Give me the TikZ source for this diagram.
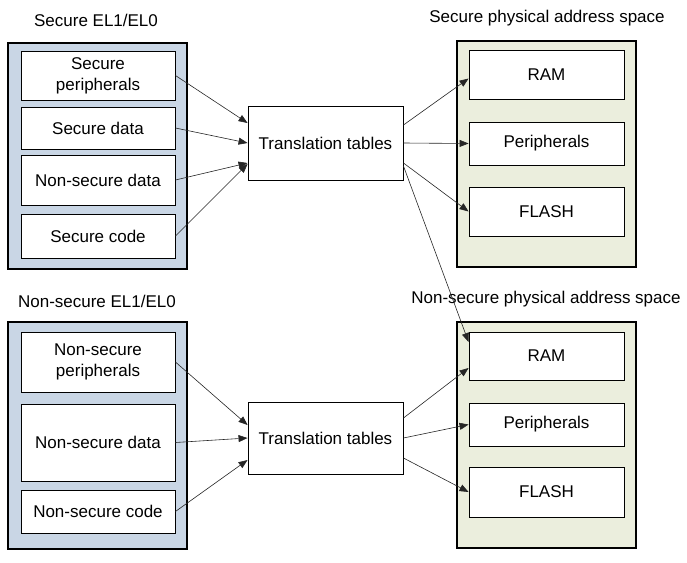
\documentclass[tikz,border=0pt]{standalone}
\usepackage{fontspec}
\setmainfont{Liberation Sans}
\usetikzlibrary{arrows.meta}
\definecolor{elblue}{HTML}{C9D6E5}
\definecolor{pagreen}{HTML}{EBEEDD}
\tikzset{
	every node/.style={font=\fontsize{17}{21}\selectfont},
	frame/.style={draw, line width=1.2pt},
	blk/.style={draw, fill=white, line width=0.9pt, minimum width=154pt, inner sep=0pt, align=center},
	conn/.style={draw=black!85, line width=0.6pt, -{Triangle[length=9pt,width=7pt]}}
}
\begin{document}
\begin{tikzpicture}[x=1pt,y=-1pt]
	\newcommand\lx{98};
	\newcommand\rx{546.5};
	\useasboundingbox (0,0) rectangle (687,562);
	% frames
	\draw[frame, fill=elblue] (8,43) rectangle (187,269);
	\draw[frame, fill=elblue] (8,322) rectangle (187,549);
	\draw[frame, fill=pagreen] (457,41) rectangle (636,267);
	\draw[frame, fill=pagreen] (457,322) rectangle (636,548);
	\node (stitle) at (96,20) {Secure EL1/EL0};
	\node (ntitle) at (97,301) {Non-secure EL1/EL0};
	\node (sptitle) at (547,18) {Secure physical address space};
	\node (nptitle) at (546,299) {Non-secure physical address space};
	% secure side
	\foreach \nm/\y/\h/\txt in {sp/75.5/49/{Secure\\peripherals}, sd/128/42/Secure data, nsd/180/50/Non-secure data, sc/236/44/Secure code} {
		\node[blk, minimum height=\h pt] (\nm) at (\lx,\y) {\txt};
	}
	\foreach \nm/\y/\h/\txt in {sram/74.5/49/RAM, sper/143.5/43/Peripherals, sflash/211.5/49/FLASH} {
		\node[blk, minimum height=\h pt, minimum width=155pt] (\nm) at (\rx,\y) {\txt};
	}
	\node[blk, minimum width=155pt, minimum height=74pt] (tt) at (325.5,143) {Translation tables};
	% non-secure side
	\foreach \nm/\y/\h/\txt in {nsp/362/60/{Non-secure\\peripherals}, nnsd/442.5/77/Non-secure data, nsc/511.5/43/Non-secure code} {
		\node[blk, minimum height=\h pt] (\nm) at (\lx,\y) {\txt};
	}
	\foreach \nm/\y/\h/\txt in {nram/356/48/RAM, nper/424.5/43/Peripherals, nflash/492/50/FLASH} {
		\node[blk, minimum height=\h pt, minimum width=155pt] (\nm) at (\rx,\y) {\txt};
	}
	\node[blk, minimum width=155pt, minimum height=72pt] (ntt) at (325.5,438) {Translation tables};
	% arrows
	\draw[conn] (sp.east) -- ([yshift=20pt]tt.west);
	\draw[conn] (sd.east) -- (tt.west);
	\draw[conn] (nsd.east) -- ([yshift=-20pt]tt.west);
	\draw[conn] (sc.east) -- ([yshift=-21pt]tt.west);
	\draw[conn] ([yshift=18pt]tt.east) -- ([yshift=-4pt]sram.west);
	\draw[conn] (tt.east) -- (sper.west);
	\draw[conn] ([yshift=-20pt]tt.east) -- (sflash.west);
	\draw[conn] ([yshift=-23pt]tt.east) -- ([yshift=14pt]nram.west);
	\draw[conn] (nsp.east) -- ([yshift=13pt]ntt.west);
	\draw[conn] (nnsd.east) -- (ntt.west);
	\draw[conn] (nsc.east) -- ([yshift=-22pt]ntt.west);
	\draw[conn] ([yshift=20pt]ntt.east) -- ([yshift=-12pt]nram.west);
	\draw[conn] (ntt.east) -- (nper.west);
	\draw[conn] ([yshift=-20pt]ntt.east) -- (nflash.west);
\end{tikzpicture}
\end{document}
